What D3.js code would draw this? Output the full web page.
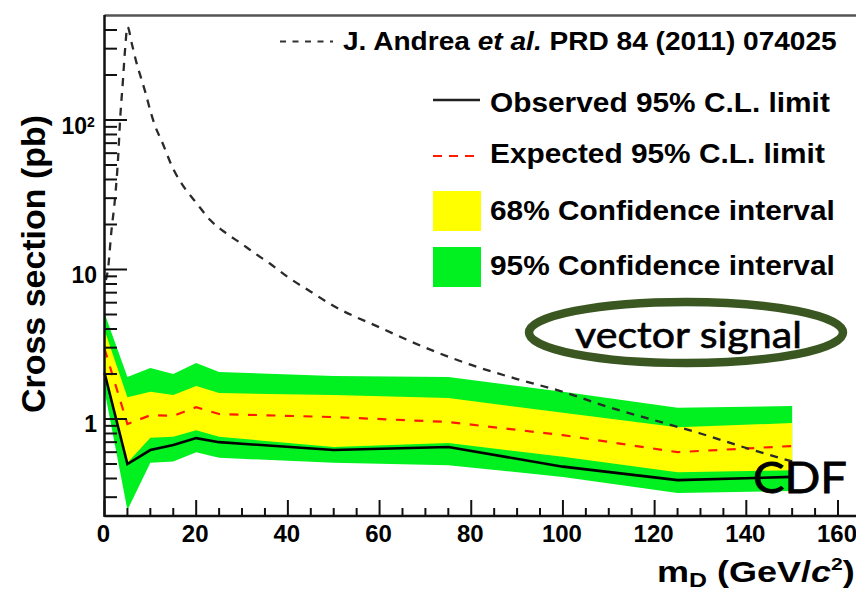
<!DOCTYPE html>
<html><head><meta charset="utf-8">
<script src="https://cdn.jsdelivr.net/npm/d3@7"></script>
<style>body{margin:0;background:#fff} svg{display:block}</style>
</head><body><svg id="c" width="856" height="593"></svg>
<script>
// ---------------- data ----------------
const massPoints = [0, 5, 10, 15, 20, 25, 50, 75, 100, 125, 150];
const observed   = [2.04, 0.50, 0.62, 0.67, 0.745, 0.70, 0.62, 0.65, 0.48, 0.39, 0.41];
const expected   = [2.95, 0.925, 1.06, 1.05, 1.20, 1.08, 1.03, 0.955, 0.78, 0.60, 0.66];
const band68Up   = [3.94, 1.40, 1.52, 1.45, 1.66, 1.49, 1.45, 1.38, 1.10, 0.88, 0.94];
const band68Low  = [2.05, 0.51, 0.75, 0.76, 0.84, 0.76, 0.65, 0.69, 0.56, 0.44, 0.455];
const band95Up   = [5.10, 1.91, 2.19, 2.00, 2.37, 2.06, 1.94, 1.91, 1.52, 1.19, 1.22];
const band95Low  = [1.55, 0.246, 0.51, 0.52, 0.60, 0.55, 0.51, 0.49, 0.41, 0.32, 0.33];

const theoryMass = [0.3, 0.75, 1.5, 2.3, 3, 3.4, 4, 4.5, 5, 6, 7, 8, 9, 10, 11, 12.5, 15, 17.5, 20, 23, 26.5, 30, 33, 36, 40, 45, 50, 60, 70, 80, 90, 100, 110, 120, 130, 140, 150];
const theoryXsec = [8.5, 10, 18, 30, 58, 100, 180, 300, 420, 320, 240, 190, 150, 115, 92, 72, 47, 35, 28, 21.5, 17.5, 14.8, 12.7, 11, 8.9, 7.1, 5.7, 4.1, 3.0, 2.3, 1.85, 1.52, 1.2, 0.98, 0.8, 0.64, 0.52];

const xTickValues = [0, 20, 40, 60, 80, 100, 120, 140, 160];
const yMajorTicks = [1, 10, 100];
const yTickLabels = ["1", "10", "10"];
const legendLabels = ["Observed 95% C.L. limit", "Expected 95% C.L. limit", "68% Confidence interval", "95% Confidence interval"];

// ---------------- setup ----------------
const svg = d3.select("#c");
const FONT = "'Liberation Sans', Arial, Helvetica, sans-serif";
const YELLOW = "#ffff00", GREEN = "#00f020";

const x = d3.scaleLinear().domain([0, 160]).range([104.5, 838]);
const y = d3.scaleLog().domain([0.2245, 500]).range([516, 15.5]);

function fit(sel, tx, ty, targetW, extra) {
  const w = sel.node().getComputedTextLength();
  const s = targetW / w;
  sel.attr("x", 0).attr("y", 0)
     .attr("transform", `translate(${tx},${ty})${extra || ""} scale(${s},1)`);
}

const idx = d3.range(massPoints.length);
const area = (lo, hi) => d3.area().x(i => x(massPoints[i])).y0(i => y(lo[i])).y1(i => y(hi[i]));

svg.append("path").attr("d", area(band95Low, band95Up)(idx)).attr("fill", GREEN);
svg.append("path").attr("d", area(band68Low, band68Up)(idx)).attr("fill", YELLOW);

const line = arr => d3.line().x(i => x(massPoints[i])).y(i => y(arr[i]));
svg.append("path").attr("d", line(expected)(idx)).attr("fill", "none")
  .attr("stroke", "#ff1a00").attr("stroke-width", 2.2).attr("stroke-dasharray", "9,9.5");
svg.append("path").attr("d", line(observed)(idx)).attr("fill", "none")
  .attr("stroke", "#000").attr("stroke-width", 2.6);

const tIdx = d3.range(theoryMass.length);
svg.append("path")
  .attr("d", d3.line().x(i => x(theoryMass[i])).y(i => y(theoryXsec[i])).curve(d3.curveMonotoneX)(tIdx))
  .attr("fill", "none").attr("stroke", "#2a2a2a").attr("stroke-width", 2.3).attr("stroke-dasharray", "8,7");

// ---------------- frame / axes ----------------
svg.append("line").attr("x1", 104.5).attr("x2", 900).attr("y1", 15.5).attr("y2", 15.5)
  .attr("stroke", "#555").attr("stroke-width", 2.5);
svg.append("line").attr("x1", 104.5).attr("x2", 900).attr("y1", 516).attr("y2", 516)
  .attr("stroke", "#111").attr("stroke-width", 2.5);
svg.append("line").attr("x1", 104.5).attr("x2", 104.5).attr("y1", 15).attr("y2", 517)
  .attr("stroke", "#111").attr("stroke-width", 2.5);

// x ticks
const xMinor = d3.range(0, 161, 5).filter(v => v % 20 !== 0);
const gx = svg.append("g");
gx.selectAll("line.maj").data(xTickValues).join("line")
  .attr("x1", d => x(d)).attr("x2", d => x(d)).attr("y1", 516).attr("y2", 500)
  .attr("stroke", "#111").attr("stroke-width", 2);
gx.selectAll("line.min").data(xMinor).join("line")
  .attr("x1", d => x(d)).attr("x2", d => x(d)).attr("y1", 516).attr("y2", 508)
  .attr("stroke", "#111").attr("stroke-width", 2);
gx.selectAll("text").data(xTickValues).join("text")
  .attr("x", d => x(d) - 1).attr("y", 542).attr("text-anchor", "middle")
  .attr("font-family", FONT).attr("font-weight", "bold").attr("font-size", 24)
  .text(d => d);

// y ticks
const yMinor = [];
[0.1, 1, 10, 100].forEach(dec => { for (let k = 2; k <= 9; k++) { const v = dec * k; if (v > 0.2245 && v < 500) yMinor.push(v); } });
const gy = svg.append("g");
gy.selectAll("line.maj").data(yMajorTicks).join("line")
  .attr("x1", 104.5).attr("x2", 127).attr("y1", d => y(d)).attr("y2", d => y(d))
  .attr("stroke", "#111").attr("stroke-width", 2);
gy.selectAll("line.min").data(yMinor).join("line")
  .attr("x1", 104.5).attr("x2", 117).attr("y1", d => y(d)).attr("y2", d => y(d))
  .attr("stroke", "#111").attr("stroke-width", 2);
yMajorTicks.forEach((v, i) => {
  gy.append("text").attr("font-family", FONT).attr("font-weight", "bold")
    .attr("font-size", 23).attr("text-anchor", "end")
    .attr("x", v === 100 ? 87 : 97).attr("y", y(v) + (v === 100 ? 14 : 13)).text(yTickLabels[i]);
  if (v === 100) {
    gy.append("text").attr("font-family", FONT).attr("font-weight", "bold")
      .attr("font-size", 14).attr("x", 87).attr("y", y(v) + 7).text("2");
  }
});

// axis titles
const yt = svg.append("text").attr("font-family", FONT).attr("font-weight", "bold")
  .attr("font-size", 33).attr("text-anchor", "middle").text("Cross section (pb)");
fit(yt, 45, 264, 298, " rotate(-90)");

const xt = svg.append("text").attr("font-family", FONT).attr("font-weight", "bold").attr("font-size", 29);
xt.append("tspan").text("m");
xt.append("tspan").attr("font-size", 20).attr("dy", 5).text("D");
xt.append("tspan").attr("dy", -5).text(" (GeV/");
xt.append("tspan").attr("font-style", "italic").text("c");
xt.append("tspan").attr("font-size", 17).attr("dy", -12).text("2");
xt.append("tspan").attr("dy", 12).text(")");
fit(xt, 657, 582, 198);

// ---------------- legend ----------------
svg.append("line").attr("x1", 280).attr("x2", 333).attr("y1", 41.5).attr("y2", 41.5)
  .attr("stroke", "#333").attr("stroke-width", 2.2).attr("stroke-dasharray", "6,6.5");
const lt = svg.append("text").attr("font-family", FONT).attr("font-weight", "bold").attr("font-size", 25.5);
lt.append("tspan").text("J. Andrea ");
lt.append("tspan").attr("font-style", "italic").text("et al.");
lt.append("tspan").text(" PRD 84 (2011) 074025");
fit(lt, 343, 50, 494);

const rowsY = [100, 156, 211, 267];
const textW = [340, 335, 345, 345];
const textBase = [112, 163, 220, 275];
svg.append("line").attr("x1", 433).attr("x2", 480).attr("y1", rowsY[0]).attr("y2", rowsY[0])
  .attr("stroke", "#222").attr("stroke-width", 2.4);
svg.append("line").attr("x1", 433).attr("x2", 476).attr("y1", rowsY[1]).attr("y2", rowsY[1])
  .attr("stroke", "#ff1a00").attr("stroke-width", 2).attr("stroke-dasharray", "9,7");
svg.append("rect").attr("x", 433).attr("y", rowsY[2] - 20).attr("width", 48).attr("height", 40).attr("fill", YELLOW);
svg.append("rect").attr("x", 433).attr("y", rowsY[3] - 20).attr("width", 48).attr("height", 40).attr("fill", GREEN);
legendLabels.forEach((lab, i) => {
  const t = svg.append("text").attr("font-family", FONT).attr("font-weight", "bold")
    .attr("font-size", 28).text(lab);
  fit(t, 490, textBase[i], textW[i]);
});

// ---------------- annotations ----------------
svg.append("ellipse").attr("cx", 686).attr("cy", 332.5).attr("rx", 157).attr("ry", 30.5)
  .attr("fill", "none").attr("stroke", "#3a5621").attr("stroke-width", 8.5);
const vs = svg.append("text").attr("font-family", "Lato, 'Open Sans', sans-serif")
  .attr("font-size", 37).attr("fill", "#000").attr("stroke", "#000").attr("stroke-width", 0.6)
  .text("vector signal");
fit(vs, 575, 348, 227);
const cdf = svg.append("text").attr("font-family", "Lato, 'Open Sans', sans-serif")
  .attr("font-size", 43).attr("fill", "#000").attr("stroke", "#000").attr("stroke-width", 0.8)
  .text("CDF");
fit(cdf, 753, 493, 94);
</script></body></html>
